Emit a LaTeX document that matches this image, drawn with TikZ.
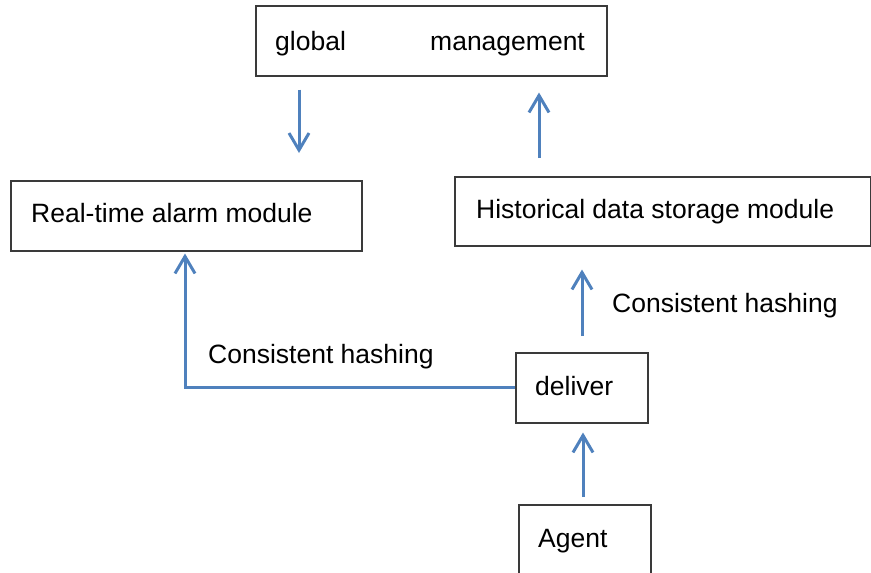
\documentclass[tikz,border=0pt]{standalone}
\usepackage{fontspec}
\setmainfont{Liberation Sans}
\usetikzlibrary{arrows.meta,calc}
\definecolor{arrblue}{HTML}{4F81BD}
\definecolor{boxgray}{HTML}{3A3A3A}
\tikzset{
  box/.style={draw=boxgray, line width=1.5pt, inner sep=0pt, anchor=north west},
  txt/.style={anchor=base west, inner sep=0pt, font=\fontsize{26.5}{30}\selectfont},
  arr/.style={draw=arrblue, line width=3pt, -{Straight Barb[length=17pt,width=20pt,line width=3pt]}}
}
\begin{document}
\begin{tikzpicture}[x=1pt,y=-1pt]
\useasboundingbox (0,0) rectangle (871,573);
\clip (0,0) rectangle (871,573);
% boxes
\node[box, minimum width=351pt, minimum height=70pt] (gm) at (255,5) {};
\node[box, minimum width=351pt, minimum height=70pt] (alarm) at (10,180) {};
\node[box, minimum width=416pt, minimum height=69pt] (hist) at (454,176) {};
\node[box, minimum width=132pt, minimum height=70pt] (deliver) at (515,352) {};
\node[box, minimum width=132pt, minimum height=90pt] (agent) at (518,504) {};
% texts
\node[txt] (gmt1) at (275,50) {global};
\node[txt] (gmt2) at (430,50) {management};
\node[txt] (alarmt) at (31,222) {Real-time alarm module};
\node[txt] (histt) at (476,218) {Historical data storage module};
\node[txt] (delivert) at (535,395) {deliver};
\node[txt] (agentt) at (538,547) {Agent};
\node[txt] (hash1) at (208,363) {Consistent hashing};
\node[txt] (hash2) at (612,312) {Consistent hashing};
% arrows
\draw[arr, shorten <=13pt, shorten >=27pt] ([xshift=44pt]gm.south west) -- ([xshift=44pt]gm.south west |- alarm.north);
\draw[arr, shorten <=18pt, shorten >=16pt] ([xshift=85pt]hist.north west) -- ([xshift=85pt]hist.north west |- gm.south);
\draw[arr, shorten <=16pt, shorten >=23pt] ([xshift=67pt]deliver.north west) -- ([xshift=67pt]deliver.north west |- hist.south);
\draw[arr, shorten <=7pt, shorten >=9pt] ([xshift=65pt]agent.north west) -- ([xshift=65pt]agent.north west |- deliver.south);
\draw[arr, shorten >=2pt] (deliver.west) -| ([xshift=175pt]alarm.south west);
\end{tikzpicture}
\end{document}
